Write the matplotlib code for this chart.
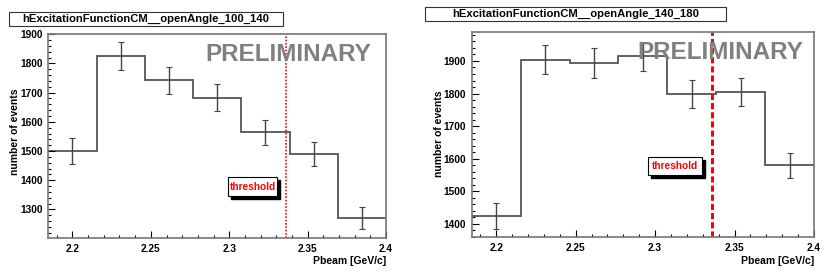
import matplotlib.pyplot as plt
import numpy as np
from matplotlib.ticker import MultipleLocator
from matplotlib.patches import Rectangle

# bin edges shared by both histograms (7 bins)
edges = [2.1846, 2.2154, 2.2462, 2.2769, 2.3077, 2.3385, 2.3692, 2.4]
threshold = 2.336

counts_100_140 = [1500, 1825, 1742, 1683, 1564, 1490, 1270]
errors_100_140 = [43, 47, 47, 45, 44, 42, 38]

counts_140_180 = [1424, 1904, 1894, 1914, 1798, 1804, 1580]
errors_140_180 = [40, 45, 45, 45, 43, 43, 39]

titles = ["hExcitationFunctionCM__openAngle_100_140",
          "hExcitationFunctionCM__openAngle_140_180"]
ylims = [(1202, 1902), (1359, 1988)]

W, H = 830, 276
fig = plt.figure(figsize=(W / 100, H / 100), dpi=100)
plt.rcParams['font.family'] = ['Liberation Sans', 'DejaVu Sans']


def px_axes(x0, y0, x1, y1):
    return fig.add_axes([x0 / W, 1 - y1 / H, (x1 - x0) / W, (y1 - y0) / H])


def draw(ax, counts, errors, ylim, thr_lw, thr_ls, box, prelim_xy):
    e = np.array(edges)
    c = np.array(counts)
    centers = (e[:-1] + e[1:]) / 2
    ax.stairs(c, e, color='#555555', lw=1.3, baseline=None)
    ax.errorbar(centers, c, yerr=errors, fmt='none', ecolor='#444444',
                elinewidth=1.0, capsize=2, capthick=0.8)
    ax.axvline(threshold, color='red', lw=thr_lw, ls=thr_ls)
    ax.set_xlim(e[0], e[-1])
    ax.set_ylim(*ylim)
    ax.xaxis.set_major_locator(MultipleLocator(0.05))
    ax.xaxis.set_minor_locator(MultipleLocator(0.01))
    ax.yaxis.set_major_locator(MultipleLocator(100))
    ax.yaxis.set_minor_locator(MultipleLocator(20))
    ax.set_xticks([2.2, 2.25, 2.3, 2.35, 2.4])
    ax.set_xticklabels(['2.2', '2.25', '2.3', '2.35', '2.4'])
    ax.tick_params(which='major', direction='in', length=5, width=0.8,
                   labelsize=7.3, pad=4, colors='black')
    ax.tick_params(which='minor', direction='in', length=2.5, width=0.8)
    for lab in ax.get_xticklabels() + ax.get_yticklabels():
        lab.set_fontweight('bold')
    for s in ax.spines.values():
        s.set_color('#777777')
        s.set_linewidth(1.2)
    ax.text(prelim_xy[0], prelim_xy[1], 'PRELIMINARY', transform=ax.transAxes,
            ha='right', va='center', fontsize=17.5, fontweight='bold',
            color='#808080')
    ax.set_xlabel('Pbeam [GeV/c]', fontsize=7.5, fontweight='bold',
                  loc='right', labelpad=2)
    # threshold label box with shadow (figure pixel coords)
    bx0, by0, bx1, by1 = box
    fig.patches.append(Rectangle(((bx0 + 3) / W, 1 - (by1 + 3) / H),
                                 (bx1 - bx0) / W, (by1 - by0) / H,
                                 transform=fig.transFigure, color='black',
                                 zorder=5))
    fig.patches.append(Rectangle((bx0 / W, 1 - by1 / H),
                                 (bx1 - bx0) / W, (by1 - by0) / H,
                                 transform=fig.transFigure, facecolor='white',
                                 edgecolor='black', lw=0.8, zorder=6))
    fig.text((bx0 + bx1) / 2 / W, 1 - (by0 + by1) / 2 / H, 'threshold',
             ha='center', va='center', color='red', fontsize=7.3,
             fontweight='semibold', zorder=7)


ax1 = px_axes(48.3, 33.7, 386, 238)
draw(ax1, counts_100_140, errors_100_140, ylims[0], 1.2, (0, (1, 1)),
     (228, 177, 277, 196), (0.955, 0.9))
ax2 = px_axes(471.7, 32.3, 814, 237.3)
draw(ax2, counts_140_180, errors_140_180, ylims[1], 2.2, (0, (2, 1)),
     (648, 157, 702, 175), (0.97, 0.9))

fig.text(15 / W, 1 - 132 / H, 'number of events', rotation=90,
         ha='center', va='center', fontsize=7.5, fontweight='bold')
fig.text(439 / W, 1 - 134 / H, 'number of events', rotation=90,
         ha='center', va='center', fontsize=7.5, fontweight='bold')

for title, (x0, y0, x1, y1) in zip(titles, [(9, 12, 283, 26), (425, 7, 726, 21)]):
    fig.patches.append(Rectangle((x0 / W, 1 - y1 / H), (x1 - x0) / W,
                                 (y1 - y0) / H, transform=fig.transFigure,
                                 facecolor='white', edgecolor='#333333',
                                 lw=0.8))
    fig.text((x0 + x1) / 2 / W, 1 - (y0 + y1) / 2 / H, title, ha='center',
             va='center', fontsize=8.1, fontweight='bold')

fig.savefig('out.png', dpi=100)
